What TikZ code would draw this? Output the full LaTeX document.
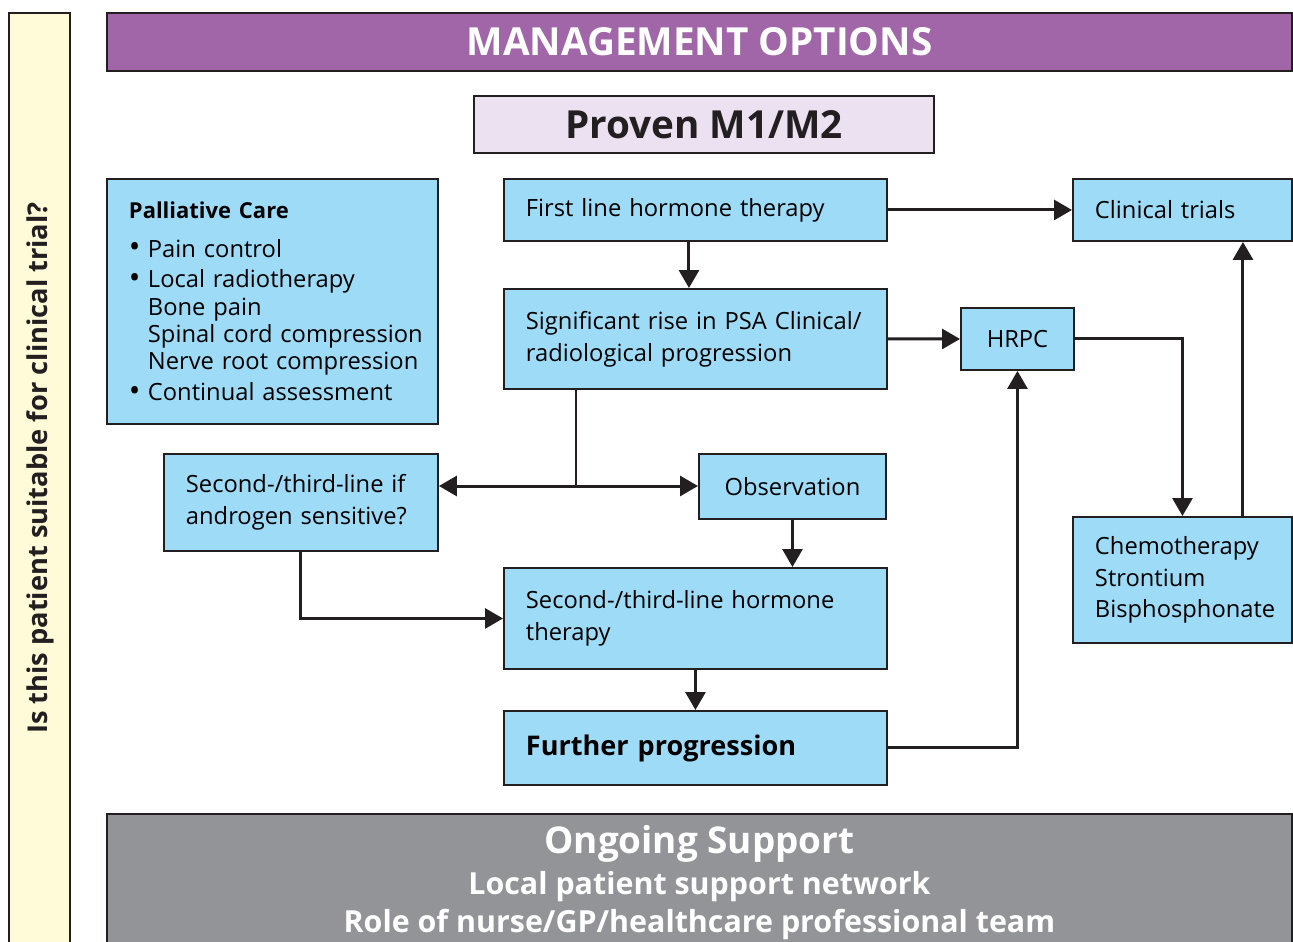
\documentclass[tikz,border=0pt]{standalone}
\usepackage{fontspec}
\setmainfont{Open Sans}
\usetikzlibrary{arrows.meta}
\definecolor{boxline}{HTML}{231F20}
\definecolor{boxblue}{HTML}{9DDBF7}
\definecolor{headpurple}{HTML}{A066A8}
\definecolor{provenlilac}{HTML}{EBE1F1}
\definecolor{sideyellow}{HTML}{FFFAD7}
\definecolor{supportgray}{HTML}{939498}
\newcommand{\bul}{\makebox[10.8pt][l]{\raisebox{-0.5pt}{\scalebox{1.3}{•}}}}
\newcommand{\indnt}[1]{\mbox{\hspace*{10.8pt}#1}}
\begin{document}
\begin{tikzpicture}[x=0.2mm, y=-0.2mm,
    frame/.style={draw=boxline, line width=1.1pt, anchor=north west, inner sep=0pt},
    box/.style={frame, fill=boxblue, inner xsep=4.4mm, align=left, font=\fontsize{13.5}{18.1}\selectfont},
    flow/.style={draw=boxline, line width=1.7pt, -{Triangle[length=3.6mm, width=4mm]}}]
    \useasboundingbox (0,0) rectangle (1293,942);
    % side bar and banners
    \node[frame, fill=sideyellow, minimum width=12.2mm, minimum height=190mm] (sidebar) at (8,12) {};
    \node[rotate=90, font=\bfseries\fontsize{15.5}{18}\selectfont, text=boxline] (question) at (40,468) {Is this patient suitable for clinical trial?};
    \node[frame, fill=headpurple, minimum width=237mm, minimum height=11.6mm, text=white, font=\bfseries\fontsize{22}{24}\selectfont] (mgmt) at (106,12) {MANAGEMENT OPTIONS};
    \node[frame, fill=provenlilac, minimum width=92mm, minimum height=11.4mm, text=boxline, font=\bfseries\fontsize{22}{24}\selectfont] (proven) at (473,95) {Proven M1/M2};
    % boxes
    \node[box, text width=57.4mm, minimum height=49mm, font=\fontsize{13.5}{15.5}\selectfont] (palliative) at (106,178) {{\bfseries\fontsize{12.5}{15.5}\selectfont Palliative Care}\\[6.6pt]
        \bul Pain control\\[2.1pt]
        \bul Local radiotherapy\\
        \indnt{Bone pain}\\
        \indnt{Spinal cord compression}\\
        \indnt{Nerve root compression}\\[2.1pt]
        \bul Continual assessment};
    \node[box, text width=67.8mm, minimum height=12.4mm] (firstline) at (503,178) {First line hormone therapy};
    \node[box, text width=35mm, minimum height=12.4mm] (trials) at (1072,178) {Clinical trials};
    \node[box, text width=67.8mm, minimum height=20mm] (rise) at (503,288) {Significant rise in PSA Clinical/\\radiological progression};
    \node[box, minimum width=22.6mm, minimum height=12.4mm, align=center, inner xsep=0pt] (hrpc) at (960,307) {HRPC};
    \node[box, text width=46mm, minimum height=19.4mm] (secondif) at (163,453) {Second-/third-line if\\androgen sensitive?};
    \node[box, minimum width=37.4mm, minimum height=13mm, align=center, inner xsep=0pt] (observ) at (698,453) {Observation};
    \node[box, text width=35mm, minimum height=25.2mm] (chemo) at (1072,516) {Chemotherapy\\Strontium\\Bisphosphonate};
    \node[box, text width=67.8mm, minimum height=20.2mm] (secondhorm) at (503,567) {Second-/third-line hormone\\therapy};
    \node[box, text width=67.8mm, minimum height=14.8mm, font=\bfseries\fontsize{15.4}{18}\selectfont] (further) at (503,710) {Further progression};
    \node[frame, fill=supportgray, minimum width=237mm, minimum height=27.4mm, text=white, align=center, font=\bfseries\fontsize{17.3}{21.5}\selectfont] (support) at (106,813) {{\fontsize{21}{24}\selectfont Ongoing Support}\\[1.7pt]
        Local patient support network\\
        Role of nurse/GP/healthcare professional team};
    % connectors
    \coordinate (split) at (576,486);
    \draw[flow] ([xshift=-1.3mm]firstline.south) -- ([xshift=-1.3mm]rise.north);
    \draw[flow] (firstline.east) -- (trials.west);
    \draw[flow] (rise.east) -- (hrpc.west);
    \draw[draw=boxline, line width=1.7pt] (rise.south -| split) -- (split);
    \draw[flow] (split) -- (split -| secondif.east);
    \draw[flow] (split) -- (split -| observ.west);
    \draw[flow] (observ.south) -- (observ.south |- secondhorm.north);
    \draw[flow] (secondif.south) |- (secondhorm.west);
    \draw[flow] (secondhorm.south) -- (further.north);
    \draw[flow] (further.east) -| (hrpc.south);
    \draw[flow] (hrpc.east) -| (chemo.north);
    \draw[flow] ([xshift=12.1mm]chemo.north) -- ([xshift=12.1mm]trials.south);
\end{tikzpicture}
\end{document}
